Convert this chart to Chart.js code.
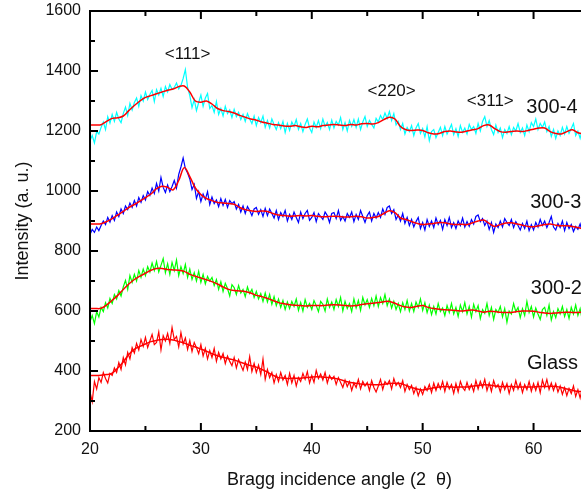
<!DOCTYPE html>
<html>
<head>
<meta charset="utf-8">
<script src="https://cdn.jsdelivr.net/npm/chart.js@4/dist/chart.umd.min.js"></script>
<style>
  html, body { margin: 0; padding: 0; background: #fff; overflow: hidden; }
  #wrap { width: 620px; height: 495px; }
</style>
</head>
<body>
<div id="wrap"><canvas id="xrd-chart" width="620" height="495"></canvas></div>
<script>
// Bragg angle grid: raw scans every 0.2 deg, fitted curves every 0.5 deg
const scanStart = 20;
const rawStep = 0.2;
const fitStep = 0.5;

// raw scans (a. u.), 20..65 deg, one row per degree
const raw300_4 = [
  1168, 1185, 1160, 1198, 1190,  1212, 1230, 1205, 1248, 1226,
  1255, 1232, 1262, 1240, 1228,  1258, 1280, 1252, 1292, 1270,
  1295, 1310, 1282, 1318, 1300,  1330, 1305, 1322, 1335, 1298,
  1338, 1320, 1342, 1315, 1348,  1330, 1355, 1338, 1345, 1360,
  1340, 1352, 1375, 1405, 1345,  1318, 1278, 1305, 1268, 1295,
  1320, 1282, 1310, 1325, 1275,  1285, 1262, 1298, 1255, 1275,
  1250, 1282, 1258, 1270, 1245,  1272, 1248, 1262, 1238, 1255,
  1232, 1258, 1240, 1225, 1250,  1218, 1245, 1228, 1250, 1212,
  1235, 1210, 1240, 1222, 1205,  1228, 1208, 1232, 1195, 1225,
  1202, 1230, 1215, 1238, 1205,  1225, 1198, 1222, 1240, 1210,
  1195, 1230, 1212, 1235, 1208,  1240, 1215, 1228, 1205, 1236,
  1210, 1232, 1220, 1245, 1205,  1228, 1200, 1235, 1215, 1238,
  1212, 1240, 1205, 1230, 1248,  1215, 1235, 1222, 1210, 1242,
  1230, 1252, 1238, 1260, 1242,  1265, 1235, 1258, 1220, 1232,
  1205, 1225, 1190, 1212, 1198,  1218, 1185, 1210, 1225, 1192,
  1208, 1180, 1215, 1168, 1198,  1205, 1178, 1195, 1212, 1185,
  1215, 1190, 1205, 1222, 1188,  1208, 1182, 1218, 1195, 1210,
  1190, 1222, 1205, 1215, 1192,  1225, 1200, 1232, 1248, 1215,
  1235, 1205, 1188, 1220, 1195,  1210, 1178, 1205, 1192, 1215,
  1188, 1212, 1200, 1225, 1195,  1210, 1185, 1220, 1198, 1228,
  1215, 1240, 1205, 1225, 1212,  1230, 1198, 1215, 1182, 1205,
  1175, 1200, 1185, 1212, 1190,  1215, 1192, 1208, 1225, 1185,
  1200, 1176, 1205, 1182, 1195,
  1186
];
const raw300_3 = [
  855, 872, 862, 880, 868,  885, 900, 888, 912, 896,
  918, 902, 930, 915, 940,  925, 950, 938, 960, 945,
  968, 950, 978, 962, 985,  970, 998, 985, 1010, 992,
  1025, 1000, 1045, 1012, 995,  1020, 998, 1015, 1035, 1010,
  1055, 1080, 1110, 1075, 1060,  1040, 1005, 1022, 975, 998,
  965, 990, 972, 998, 955,  980, 958, 970, 948, 975,
  952, 972, 945, 968, 958,  965, 940, 955, 930, 950,
  925, 948, 935, 918, 940,  945, 922, 938, 915, 942,
  918, 940, 925, 910, 935,  905, 928, 915, 935, 900,
  922, 905, 930, 912, 895,  930, 908, 925, 935, 902,
  912, 928, 898, 925, 915,  905, 930, 918, 895, 925,
  928, 908, 935, 902, 915,  900, 925, 912, 930, 898,
  922, 905, 935, 915, 895,  918, 930, 900, 925, 910,
  928, 912, 940, 922, 945,  950, 925, 938, 905, 920,
  900, 925, 892, 912, 885,  905, 880, 898, 912, 875,
  895, 870, 905, 882, 900,  878, 910, 888, 902, 872,
  905, 885, 912, 878, 895,  875, 900, 885, 910, 880,
  898, 882, 905, 890, 915,  920, 898, 908, 885, 900,
  872, 895, 862, 890, 878,  900, 880, 908, 895, 885,
  905, 878, 898, 885, 870,  892, 875, 900, 868, 888,
  870, 895, 880, 905, 885,  900, 878, 895, 915, 880,
  870, 892, 878, 900, 868,  895, 875, 888, 865, 882,
  872, 890, 862, 880, 858,
  868
];
const raw300_2 = [
  565, 585, 558, 598, 580,  612, 598, 628, 610, 642,
  625, 655, 640, 668, 650,  680, 702, 672, 718, 695,
  722, 700, 735, 712, 740,  718, 748, 730, 760, 735,
  765, 730, 752, 775, 728,  758, 722, 762, 735, 770,
  718, 748, 725, 755, 712,  740, 705, 728, 700, 732,
  695, 722, 690, 715, 700,  712, 685, 705, 672, 698,
  665, 692, 675, 650, 688,  678, 655, 685, 660, 672,
  648, 680, 658, 672, 645,  665, 640, 658, 632, 660,
  630, 655, 622, 648, 618,  640, 612, 635, 605, 630,
  608, 632, 615, 640, 602,  628, 600, 638, 612, 625,
  605, 635, 618, 598, 632,  622, 600, 640, 612, 630,
  605, 638, 615, 645, 600,  632, 608, 625, 598, 640,
  610, 635, 602, 645, 620,  638, 612, 642, 618, 650,
  615, 645, 625, 655, 618,  640, 610, 632, 605, 625,
  598, 628, 605, 635, 600,  625, 598, 630, 612, 640,
  602, 628, 595, 620, 588,  615, 590, 625, 598, 610,
  585, 618, 595, 625, 590,  612, 582, 620, 598, 628,
  590, 615, 580, 622, 598,  618, 575, 605, 592, 625,
  585, 612, 572, 605, 595,  615, 580, 608, 562, 600,
  590, 625, 598, 612, 578,  608, 585, 632, 595, 615,
  580, 610, 590, 572, 605,  612, 585, 620, 570, 598,
  578, 608, 590, 615, 582,  605, 575, 612, 590, 620,
  585, 608, 568, 600, 590,
  580
];
const rawGlass = [
  330, 298, 365, 340, 378,  362, 395, 375, 360, 392,
  385, 410, 395, 428, 405,  445, 420, 462, 440, 478,
  460, 492, 470, 505, 482,  512, 478, 500, 522, 488,
  495, 530, 470, 518, 500,  525, 492, 545, 505, 515,
  480, 528, 490, 510, 472,  502, 465, 495, 478, 458,
  488, 450, 475, 440, 468,  445, 475, 432, 462, 440,
  458, 425, 450, 432, 418,  445, 410, 438, 420, 402,
  430, 405, 448, 398, 425,  395, 420, 388, 440, 372,
  405, 378, 395, 360, 388,  365, 395, 370, 385, 355,
  392, 360, 385, 350, 378,  365, 392, 372, 398, 360,
  385, 362, 402, 375, 390,  370, 395, 360, 385, 372,
  382, 355, 378, 362, 345,  370, 348, 365, 335, 360,
  345, 372, 340, 365, 350,  362, 335, 368, 345, 330,
  350, 372, 338, 365, 355,  368, 340, 375, 352, 362,
  345, 368, 332, 355, 338,  352, 325, 345, 318, 340,
  322, 348, 335, 355, 328,  360, 335, 358, 340, 365,
  332, 362, 340, 355, 325,  358, 330, 365, 345, 335,
  362, 338, 355, 332, 368,  340, 365, 345, 372, 335,
  360, 332, 368, 345, 355,  330, 362, 338, 358, 325,
  355, 335, 368, 340, 360,  328, 355, 338, 365, 332,
  358, 335, 362, 328, 370,  345, 372, 338, 360, 335,
  358, 330, 350, 322, 345,  318, 342, 325, 350, 315,
  338, 310, 345, 322, 305,
  330
];

// smoothed fits, 20..65 deg
const fit300_4 = [
  1220, 1220, 1221, 1232, 1242, 1244, 1250, 1268, 1285, 1300,
  1312, 1318, 1324, 1330, 1336, 1340, 1348, 1350, 1330, 1300,
  1296, 1300, 1290, 1275, 1268, 1265, 1260, 1252, 1246, 1240,
  1236, 1230, 1226, 1222, 1220, 1217, 1216, 1218, 1214, 1212,
  1216, 1214, 1218, 1220, 1222, 1220, 1218, 1222, 1220, 1224,
  1225, 1223, 1228, 1238, 1246, 1240, 1215, 1204, 1202, 1203,
  1202, 1194, 1190, 1192, 1198, 1200, 1197, 1196, 1200, 1204,
  1208, 1218, 1220, 1208, 1198, 1196, 1198, 1200, 1198, 1202,
  1206, 1210, 1210, 1198, 1192, 1190, 1198, 1204, 1194, 1190,
  1188
];
const fit300_3 = [
  890, 890, 891, 898, 908, 920, 932, 945, 955, 966,
  978, 990, 1008, 1016, 1012, 1004, 1035, 1078, 1048, 1010,
  988, 975, 968, 962, 960, 958, 956, 945, 938, 934,
  932, 933, 932, 925, 920, 918, 916, 917, 918, 917,
  918, 916, 914, 915, 916, 915, 913, 914, 916, 914,
  910, 912, 915, 925, 934, 928, 910, 905, 898, 892,
  888, 890, 892, 895, 894, 890, 888, 889, 888, 894,
  900, 903, 892, 882, 888, 893, 894, 890, 886, 882,
  881, 884, 888, 890, 886, 884, 884, 882, 878, 874,
  870
];
const fit300_2 = [
  608, 608, 609, 620, 636, 652, 672, 690, 705, 716,
  726, 736, 742, 742, 738, 737, 736, 732, 722, 716,
  710, 704, 698, 690, 680, 672, 668, 667, 665, 660,
  652, 648, 642, 635, 628, 624, 621, 619, 618, 617,
  618, 618, 618, 620, 621, 620, 618, 617, 618, 622,
  624, 626, 628, 631, 632, 626, 618, 613, 612, 616,
  618, 612, 608, 606, 604, 603, 602, 600, 602, 603,
  600, 596, 599, 598, 596, 595, 595, 598, 600, 600,
  599, 596, 593, 592, 593, 595, 596, 595, 595, 596,
  596
];
const fitGlass = [
  385, 385, 386, 388, 393, 410, 430, 455, 472, 482,
  490, 498, 502, 505, 506, 503, 498, 493, 486, 480,
  473, 466, 458, 451, 446, 441, 437, 430, 424, 418,
  413, 405, 396, 386, 378, 376, 375, 376, 376, 378,
  380, 381, 380, 378, 376, 372, 366, 362, 359, 356,
  355, 354, 354, 356, 358, 359, 358, 352, 345, 340,
  337, 340, 344, 347, 348, 347, 346, 347, 347, 349,
  352, 354, 353, 350, 348, 348, 348, 347, 347, 347,
  347, 348, 348, 349, 348, 345, 340, 336, 332, 332,
  330
];

// peak labels and sample names [text, angle, intensity]
const peakLabels = [['<111>', 28.8, 1456], ['<220>', 47.2, 1333], ['<311>', 56.1, 1299]];
const sampleLabels = [['300-4', 59.35, 1279], ['300-3', 59.7, 962], ['300-2', 59.75, 674], ['Glass substrate', 59.4, 424]];

function toPoints(values, step) {
  return values.map((v, i) => ({ x: scanStart + i * step, y: v }));
}

function rawSet(values, color) {
  return { data: toPoints(values, rawStep), borderColor: color, borderWidth: 1.2, pointRadius: 0, tension: 0, order: 1 };
}
function fitSet(values) {
  return { data: toPoints(values, fitStep), borderColor: '#ff0000', borderWidth: 1.5, pointRadius: 0, tension: 0.35, order: 0 };
}

// frame with inward ticks on all four sides, plus text annotations
const frameAndLabels = {
  id: 'frameAndLabels',
  afterDraw(chart) {
    const { ctx, chartArea: a, scales: { x, y } } = chart;
    ctx.save();
    ctx.strokeStyle = '#000';
    ctx.lineWidth = 2;
    ctx.strokeRect(a.left, a.top, a.right - a.left, a.bottom - a.top);
    ctx.beginPath();
    for (let v = 20; v <= 65; v += 5) {
      const px = x.getPixelForValue(v);
      const len = v % 10 === 0 ? 8 : 5;
      ctx.moveTo(px, a.bottom); ctx.lineTo(px, a.bottom - len);
      ctx.moveTo(px, a.top); ctx.lineTo(px, a.top + len);
    }
    for (let v = 200; v <= 1600; v += 100) {
      const py = y.getPixelForValue(v);
      const len = v % 200 === 0 ? 8 : 5;
      ctx.moveTo(a.left, py); ctx.lineTo(a.left + len, py);
      ctx.moveTo(a.right, py); ctx.lineTo(a.right - len, py);
    }
    ctx.stroke();

    ctx.fillStyle = '#111';
    ctx.textBaseline = 'middle';
    ctx.textAlign = 'center';
    ctx.font = '17px "Liberation Sans", Arial, sans-serif';
    peakLabels.forEach(([t, ax, ay]) => ctx.fillText(t, x.getPixelForValue(ax), y.getPixelForValue(ay)));
    ctx.textAlign = 'left';
    ctx.font = '20px "Liberation Sans", Arial, sans-serif';
    sampleLabels.forEach(([t, ax, ay]) => ctx.fillText(t, x.getPixelForValue(ax), y.getPixelForValue(ay)));
    ctx.restore();
  }
};

const tickFont = { family: '"Liberation Sans", Arial, sans-serif', size: 16 };
const titleFont = { family: '"Liberation Sans", Arial, sans-serif', size: 18 };

new Chart(document.getElementById('xrd-chart'), {
  type: 'line',
  data: {
    datasets: [
      fitSet(fit300_4), fitSet(fit300_3), fitSet(fit300_2), fitSet(fitGlass),
      rawSet(raw300_4, '#00ffff'), rawSet(raw300_3, '#0000ff'), rawSet(raw300_2, '#00ff00'), rawSet(rawGlass, '#ff0000')
    ]
  },
  options: {
    responsive: false,
    animation: false,
    devicePixelRatio: 1,
    layout: { padding: { left: 0, right: 31, top: 11, bottom: 0 } },
    plugins: { legend: { display: false }, tooltip: { enabled: false } },
    scales: {
      x: {
        type: 'linear', min: 20, max: 65,
        grid: { display: false }, border: { display: false },
        ticks: { stepSize: 10, includeBounds: false, padding: 1, color: '#111', font: tickFont, maxRotation: 0 },
        title: { display: true, text: 'Bragg incidence angle (2  θ)', color: '#111', font: titleFont, padding: { top: 0, bottom: 4 } },
        afterFit(scale) { scale.height = 64; scale.paddingLeft = 0; scale.paddingRight = 0; }
      },
      y: {
        type: 'linear', min: 200, max: 1600,
        grid: { display: false }, border: { display: false },
        ticks: { stepSize: 200, padding: 1, color: '#111', font: tickFont, callback: (v) => String(v) },
        title: { display: true, text: 'Intensity (a. u.)', color: '#111', font: titleFont, padding: { top: 12, bottom: 0 } },
        afterFit(scale) { scale.width = 90; scale.paddingTop = 0; scale.paddingBottom = 0; }
      }
    }
  },
  plugins: [frameAndLabels]
});
</script>
</body>
</html>
